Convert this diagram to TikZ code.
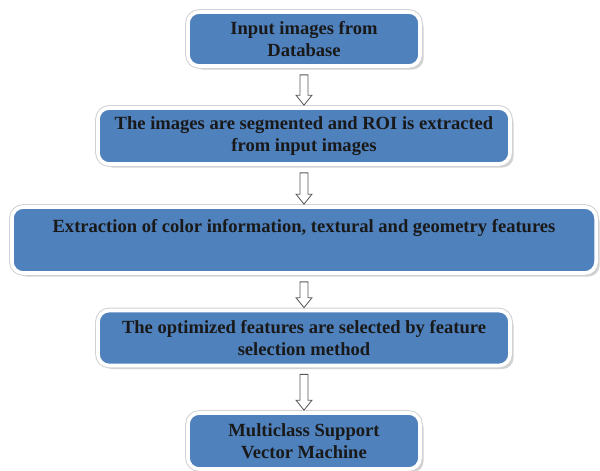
\documentclass[tikz,border=0pt]{standalone}
\usepackage{fontspec}
\setmainfont{Liberation Serif}
\usetikzlibrary{calc,shadows}

\definecolor{boxblue}{RGB}{79,129,189}

\begin{document}
\begin{tikzpicture}[x=0.025cm, y=-0.025cm,
stage box/.style = {rectangle, rounded corners=8,
     fill=boxblue, draw=white, line width=2.6,
     drop shadow={shadow xshift=2.5pt, shadow yshift=-2.5pt, fill=gray!70},
     preaction={draw=gray!35, line width=4},
     align=center, text=black!90,
     font=\fontsize{13.2pt}{15.8pt}\selectfont\bfseries},
down arrow/.style = {draw=black!65, fill=white, line width=0.6,
     to path={($(\tikztostart)+(-4,7)$) -- ($(\tikztotarget)+(-4,-11)$)
       -- ($(\tikztotarget)+(-8,-11)$) -- ($(\tikztotarget)+(0,-1)$)
       -- ($(\tikztotarget)+(8,-11)$) -- ($(\tikztotarget)+(4,-11)$)
       -- ($(\tikztostart)+(4,7)$) -- cycle}}]

\useasboundingbox (0,0) rectangle (600,470);

\node [stage box, minimum width=5.8cm, minimum height=1.35cm] (b1) at (304,39)
  {Input images from\\ Database};
\node [stage box, minimum width=10.3cm, minimum height=1.4cm] (b2) at (304,136)
  {The images are segmented and ROI is extracted\\ from input images};
\node [stage box, minimum width=14.6cm, minimum height=1.65cm] (b3) at (304,240)
  {Extraction of color information, textural and geometry features\\ \strut};
\node [stage box, minimum width=10.3cm, minimum height=1.375cm] (b4) at (304,338)
  {The optimized features are selected by feature\\ selection method};
\node [stage box, minimum width=5.8cm, minimum height=1.4cm] (b5) at (304,441)
  {Multiclass Support\\ Vector Machine};

\foreach \a/\b in {b1/b2,b2/b3,b3/b4,b4/b5} {
      \draw [down arrow] (\a.south) to (\b.north);
    }

\end{tikzpicture}
\end{document}
